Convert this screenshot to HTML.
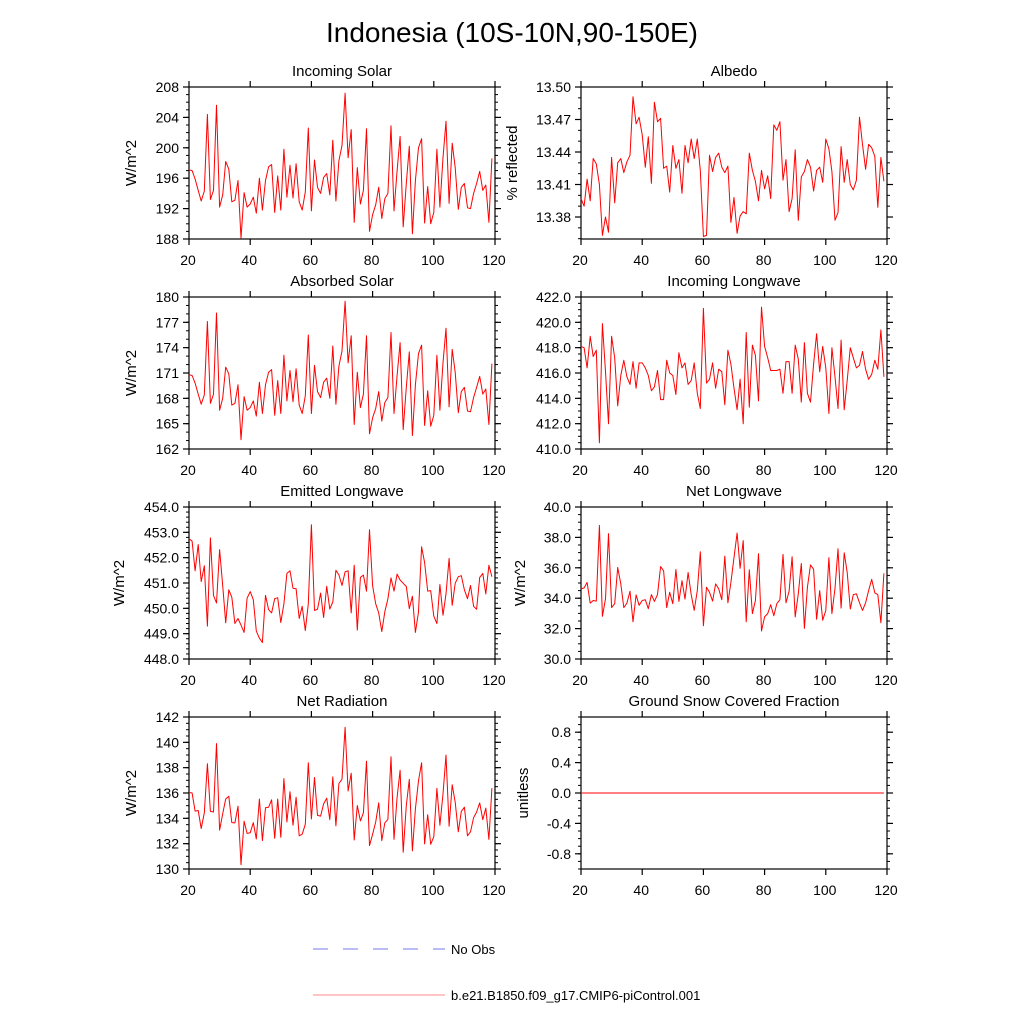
<!DOCTYPE html>
<html><head><meta charset="utf-8">
<style>
html,body{margin:0;padding:0;background:#fff;}
svg{display:block;font-family:"Liberation Sans",sans-serif;}
</style></head>
<body>
<svg id="chart" width="1024" height="1024" viewBox="0 0 1024 1024" xmlns="http://www.w3.org/2000/svg">
<rect width="1024" height="1024" fill="#fff"/>
<text x="512" y="42" font-size="28" text-anchor="middle">Indonesia (10S-10N,90-150E)</text>
<g id="panels"></g>
<g>
<line x1="313" y1="949" x2="445" y2="949" stroke="#7777ee" stroke-width="1" stroke-dasharray="15,15"/>
<text x="451" y="954" font-size="13">No Obs</text>
<line x1="313" y1="995" x2="445" y2="995" stroke="#ff8888" stroke-width="1"/>
<text x="451" y="1000" font-size="13">b.e21.B1850.f09_g17.CMIP6-piControl.001</text>
</g>
</svg>
<script>
const startYear = 20;
const incomingSolar = [197.1,197.0,195.9,194.4,193.0,194.3,204.4,193.2,194.4,205.6,192.2,193.8,198.2,197.2,192.9,193.1,195.7,188.1,194.1,192.2,192.6,193.5,191.4,196.0,191.8,195.7,197.5,197.8,191.5,196.3,191.8,199.8,193.5,197.7,193.4,197.9,192.9,191.8,194.2,202.6,191.7,198.4,194.8,194.0,196.1,196.6,193.8,201.0,193.0,198.3,200.3,207.2,198.7,202.4,190.2,197.4,192.6,194.4,202.5,189.0,191.2,192.5,194.8,190.7,193.3,194.0,202.9,191.7,197.0,201.5,189.6,195.3,200.2,188.7,195.7,200.0,201.2,190.1,194.9,190.0,191.5,199.8,192.2,198.7,203.5,192.7,200.6,197.4,191.9,194.8,195.3,192.1,192.0,194.0,195.3,196.9,194.4,195.1,190.2,198.6];
const albedo = [13.397,13.390,13.415,13.395,13.434,13.429,13.410,13.363,13.380,13.366,13.435,13.393,13.430,13.434,13.421,13.431,13.437,13.491,13.466,13.472,13.456,13.426,13.454,13.411,13.486,13.468,13.471,13.425,13.427,13.403,13.446,13.425,13.433,13.402,13.446,13.430,13.452,13.434,13.452,13.423,13.362,13.363,13.437,13.422,13.435,13.439,13.426,13.421,13.427,13.375,13.398,13.365,13.381,13.385,13.383,13.439,13.423,13.413,13.395,13.423,13.406,13.418,13.397,13.465,13.460,13.468,13.414,13.433,13.385,13.397,13.442,13.377,13.417,13.422,13.433,13.426,13.404,13.423,13.426,13.412,13.452,13.443,13.422,13.377,13.384,13.445,13.412,13.433,13.410,13.405,13.414,13.472,13.447,13.424,13.447,13.444,13.436,13.389,13.435,13.413];
const absorbedSolar = [170.8,170.7,169.8,168.5,167.3,168.4,177.1,167.4,168.5,178.1,166.6,168.0,171.7,170.9,167.2,167.4,169.6,163.1,168.2,166.6,166.9,167.7,165.9,169.9,166.2,169.6,171.1,171.4,166.0,170.1,166.2,173.1,167.7,171.3,167.6,171.5,167.2,166.2,168.3,175.5,166.2,171.9,168.8,168.1,169.9,170.4,168.0,174.2,167.3,171.8,173.6,179.5,172.2,175.4,164.9,171.1,166.9,168.5,175.4,163.8,165.7,166.8,168.8,165.3,167.5,168.1,175.8,166.2,170.7,174.6,164.3,169.3,173.5,163.6,169.6,173.3,174.3,164.8,168.9,164.7,166.0,173.1,166.6,172.2,176.3,167.0,173.8,171.1,166.3,168.8,169.3,166.5,166.4,168.1,169.3,170.6,168.5,169.1,164.9,172.1];
const incomingLW = [418.1,418.0,416.4,418.9,417.3,417.8,410.5,419.9,416.1,412.0,418.9,417.2,413.4,415.8,417.0,415.7,415.1,416.9,414.8,416.8,416.8,416.4,415.8,414.6,414.9,416.2,413.9,413.9,417.0,416.0,415.8,414.3,417.6,416.4,416.8,415.1,415.4,416.8,414.4,413.2,421.1,415.2,415.5,416.8,414.8,416.3,416.1,413.5,417.8,416.7,414.8,413.1,415.5,412.0,419.2,413.3,418.2,417.4,413.8,421.2,418.1,417.2,416.2,416.2,416.2,416.3,414.4,416.9,416.9,414.4,418.2,417.1,413.7,418.4,414.4,413.7,416.7,419.1,416.1,418.1,416.4,412.8,418.0,415.7,413.2,418.6,413.1,415.4,418.0,417.2,416.4,416.6,417.7,416.3,415.5,415.9,417.0,416.3,419.4,415.7];
const emittedLW = [452.75,452.65,451.48,452.52,451.06,451.68,449.30,452.78,450.51,450.21,452.32,450.90,449.43,450.73,450.44,449.40,449.60,449.34,449.05,450.40,450.66,450.34,449.10,448.82,448.65,450.51,449.95,449.82,450.38,450.42,449.44,450.18,451.38,451.48,450.79,450.77,449.60,450.08,449.12,450.18,453.30,449.92,449.96,450.60,449.64,450.87,449.97,450.25,451.50,451.32,450.90,451.44,451.48,449.82,451.70,449.14,451.22,451.31,450.68,453.10,450.90,450.18,449.82,449.08,449.86,450.38,451.20,450.68,451.35,451.12,450.99,450.86,449.99,450.48,449.05,449.86,452.43,451.81,450.68,450.70,449.69,449.40,450.94,449.73,450.57,451.97,450.12,450.99,451.25,451.29,450.73,450.38,450.90,450.08,449.96,451.22,451.38,450.57,451.70,451.25];
const netLW = [34.61,34.68,35.04,33.68,33.85,33.81,38.79,32.81,33.96,38.25,33.38,33.64,36.02,34.94,33.38,33.68,34.46,32.45,34.22,33.53,33.85,33.90,33.31,34.24,33.79,34.24,36.08,35.80,33.38,34.39,33.64,35.89,33.79,35.15,33.94,35.69,34.24,33.20,34.50,37.06,32.19,34.72,34.39,33.81,34.94,34.61,33.90,36.77,33.70,35.04,36.67,38.29,35.97,37.79,32.45,35.87,32.99,33.85,36.93,31.84,32.77,32.99,33.57,32.84,33.64,33.90,36.88,33.70,34.46,36.73,32.77,34.29,36.28,32.01,34.72,36.19,35.91,32.62,34.50,32.55,33.20,36.67,32.99,34.65,37.25,33.35,36.99,35.69,33.29,34.24,34.29,33.70,33.20,33.70,34.50,35.24,34.35,34.24,32.38,35.63];
const netRadiation = [136.05,136.0,134.57,134.62,133.2,134.42,138.31,134.55,134.5,139.9,133.07,134.36,135.53,135.74,133.66,133.64,134.96,130.34,133.77,132.81,132.86,133.66,132.37,135.53,132.24,134.83,134.88,135.46,132.42,135.53,132.5,137.14,133.71,136.1,133.46,135.66,132.62,132.75,133.53,138.39,133.95,137.22,134.23,134.18,135.14,135.59,133.9,137.27,133.4,136.75,137.09,141.19,136.16,137.56,132.29,135.01,133.8,134.44,138.52,131.85,132.75,133.71,135.22,132.24,133.64,133.92,138.86,132.34,135.66,137.79,131.33,135.01,137.07,131.43,134.75,136.96,138.39,131.98,134.29,131.95,132.55,136.36,133.46,135.92,138.99,133.38,136.65,135.27,132.94,134.55,134.88,132.62,132.94,134.05,134.5,135.22,133.9,134.81,132.34,136.39];
const snowFraction = new Array(100).fill(0);
const xTicks = [20,40,60,80,100,120];
const ticksIncomingSolar = ["188","192","196","200","204","208"];
const ticksAlbedo = ["13.38","13.41","13.44","13.47","13.50"];
const ticksAbsorbed = ["162","165","168","171","174","177","180"];
const ticksIncomingLW = ["410.0","412.0","414.0","416.0","418.0","420.0","422.0"];
const ticksEmittedLW = ["448.0","449.0","450.0","451.0","452.0","453.0","454.0"];
const ticksNetLW = ["30.0","32.0","34.0","36.0","38.0","40.0"];
const ticksNetRad = ["130","132","134","136","138","140","142"];
const ticksSnow = ["-0.8","-0.4","0.0","0.4","0.8"];

const NS = "http://www.w3.org/2000/svg";
const root = document.getElementById("panels");
function mk(tag, attrs, parent){ const e=document.createElementNS(NS,tag); for(const k in attrs) e.setAttribute(k,attrs[k]); parent.appendChild(e); return e; }

const panels = [
 {key:"incoming-solar",title:"Incoming Solar",col:0,row:0,data:incomingSolar,min:188,max:208,ticks:ticksIncomingSolar,minor:1,ytitle:"W/m^2",tx:136},
 {key:"albedo",title:"Albedo",col:1,row:0,data:albedo,min:13.3597,max:13.50,ticks:ticksAlbedo,minor:0.01,ytitle:"% reflected",tx:517},
 {key:"absorbed-solar",title:"Absorbed Solar",col:0,row:1,data:absorbedSolar,min:162,max:180,ticks:ticksAbsorbed,minor:1,ytitle:"W/m^2",tx:136},
 {key:"incoming-longwave",title:"Incoming Longwave",col:1,row:1,data:incomingLW,min:410,max:422,ticks:ticksIncomingLW,minor:0.5,ytitle:"",tx:517},
 {key:"emitted-longwave",title:"Emitted Longwave",col:0,row:2,data:emittedLW,min:448,max:454,ticks:ticksEmittedLW,minor:0.2,ytitle:"W/m^2",tx:124},
 {key:"net-longwave",title:"Net Longwave",col:1,row:2,data:netLW,min:30,max:40,ticks:ticksNetLW,minor:0.5,ytitle:"W/m^2",tx:525},
 {key:"net-radiation",title:"Net Radiation",col:0,row:3,data:netRadiation,min:130,max:142,ticks:ticksNetRad,minor:0.5,ytitle:"W/m^2",tx:136},
 {key:"snow-fraction",title:"Ground Snow Covered Fraction",col:1,row:3,data:snowFraction,min:-1,max:1,ticks:ticksSnow,minor:0.1,ytitle:"unitless",tx:528}
];
const colX = [189, 581], W = 306, rowY = [87, 297, 507, 717], H = 152;

panels.forEach(p=>{
  const x0=colX[p.col], y0=rowY[p.row], x1=x0+W, y1=y0+H;
  const g=mk("g",{},root);
  
  
  const xs=v=>x0+(v-20)/100*W;
  const ys=v=>y1-(v-p.min)/(p.max-p.min)*H;
  const fr=mk("rect",{x:x0,y:y0,width:W,height:H,fill:"none",stroke:"#000","stroke-width":1.2},g);
  
  
  const firstMinor=Math.ceil((p.min-1e-9)/p.minor)*p.minor;
  for(let v=firstMinor; v<=p.max+1e-9; v+=p.minor){
    const y=ys(v);
    mk("line",{x1:x0-3,y1:y,x2:x0,y2:y,stroke:"#000","stroke-width":1},g);
    mk("line",{x1:x1,y1:y,x2:x1+3,y2:y,stroke:"#000","stroke-width":1},g);
  }
  p.ticks.forEach(t=>{
    const v=parseFloat(t), y=ys(v);
    mk("line",{x1:x0-6,y1:y,x2:x0,y2:y,stroke:"#000","stroke-width":1.2},g);
    mk("line",{x1:x1,y1:y,x2:x1+6,y2:y,stroke:"#000","stroke-width":1.2},g);
    const tl=mk("text",{x:x0-10,y:y+5,"font-size":14,"text-anchor":"end"},g);
    tl.textContent=t;
    
    
  });
  xTicks.forEach(t=>{
    const x=xs(t);
    mk("line",{x1:x,y1:y1,x2:x,y2:y1+6,stroke:"#000","stroke-width":1.2},g);
    mk("line",{x1:x,y1:y0-6,x2:x,y2:y0,stroke:"#000","stroke-width":1.2},g);
    const tl=mk("text",{x:x-1,y:y1+26,"font-size":14,"text-anchor":"middle"},g);
    tl.textContent=String(t);
    
    
  });
  const tt=mk("text",{x:x0+W/2,y:y0-11,"font-size":15,"text-anchor":"middle"},g);
  tt.textContent=p.title;
  
  
  if(p.ytitle){
    const yc=y0+H/2;
    const yt=mk("text",{x:p.tx,y:yc,"font-size":15,"text-anchor":"middle",transform:"rotate(-90 "+p.tx+" "+yc+")"},g);
    yt.textContent=p.ytitle;
    
    
  }
  const pts=p.data.map((v,i)=>xs(startYear+i).toFixed(1)+","+ys(v).toFixed(1)).join(" ");
  const line=mk("polyline",{points:pts,fill:"none",stroke:"#ff0000","stroke-width":1,"stroke-linejoin":"round"},g);
  
  
});
</script>
</body></html>
